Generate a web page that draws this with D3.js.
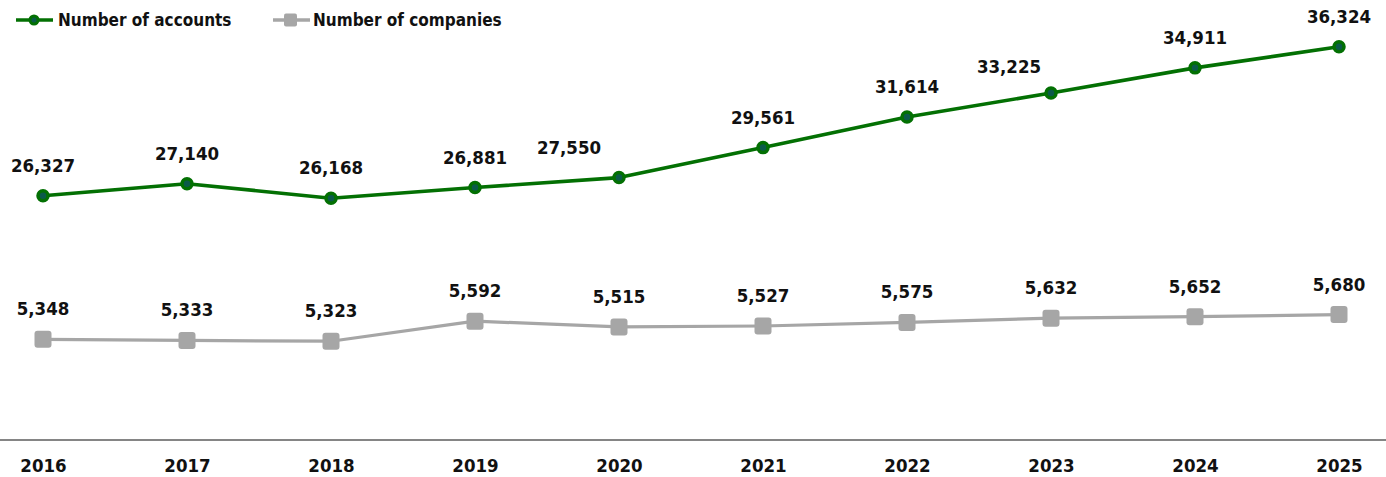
<!DOCTYPE html>
<html>
<head>
<meta charset="utf-8">
<script src="https://cdn.jsdelivr.net/npm/d3@7"></script>
<style>
  html, body { margin: 0; padding: 0; background: #fff; }
  svg { display: block; }
  text { font-family: "DejaVu Sans Condensed", "DejaVu Sans", sans-serif; font-stretch: condensed; fill: #111; }
</style>
</head>
<body>
<svg id="chart" width="1386" height="477"></svg>
<script>
const years = ["2016", "2017", "2018", "2019", "2020", "2021", "2022", "2023", "2024", "2025"];
const accounts = [26327, 27140, 26168, 26881, 27550, 29561, 31614, 33225, 34911, 36324];
const companies = [5348, 5333, 5323, 5592, 5515, 5527, 5575, 5632, 5652, 5680];
const seriesNames = ["Number of accounts", "Number of companies"];
// Hidden value axes: primary for accounts, secondary for companies
const accountsDomain = [10000, 40000];
const companiesDomain = [4000, 10000];

const W = 1386, H = 477;
const plotTop = -8, plotBottom = 440;

const svg = d3.select("#chart");

const x = d3.scalePoint().domain(years).range([43, 1339]);
const yAcc = d3.scaleLinear().domain(accountsDomain).range([plotBottom - 0.8, plotTop]);
const yCom = d3.scaleLinear().domain(companiesDomain).range([plotBottom, plotTop]);

const fmt = d3.format(",");
const green = "#037003", greenFill = "#0b5a4a", grey = "#a6a6a6";
const labelFont = '"DejaVu Sans Condensed", "DejaVu Sans", sans-serif';

// Category axis: baseline and year labels
const xAxis = d3.axisBottom(x).tickSize(0).tickPadding(19);
const gx = svg.append("g").attr("transform", `translate(0,${plotBottom})`).call(xAxis);
gx.select(".domain").remove();
gx.selectAll("text")
  .attr("font-size", 18.5).attr("font-weight", 700)
  .style("font-family", labelFont)
  .attr("fill", "#111");
svg.append("line")
  .attr("x1", 0).attr("x2", W).attr("y1", plotBottom).attr("y2", plotBottom)
  .attr("stroke", "#858585").attr("stroke-width", 2);

function drawSeries(values, y, color, kind, nudge) {
  const g = svg.append("g");
  const line = d3.line().x((d, i) => x(years[i])).y(d => y(d));
  g.append("path").datum(values)
    .attr("d", line).attr("fill", "none")
    .attr("stroke", color).attr("stroke-width", kind === "circle" ? 3.6 : 3.2)
    .attr("stroke-linejoin", "round");
  if (kind === "circle") {
    g.selectAll("circle").data(values).join("circle")
      .attr("cx", (d, i) => x(years[i])).attr("cy", d => y(d)).attr("r", 5)
      .attr("fill", greenFill).attr("stroke", color).attr("stroke-width", 3.5);
  } else {
    g.selectAll("rect").data(values).join("rect")
      .attr("x", (d, i) => x(years[i]) - 8.5).attr("y", d => y(d) - 8.5)
      .attr("width", 17).attr("height", 17).attr("rx", 3)
      .attr("fill", color);
  }
  g.selectAll("text.val").data(values).join("text")
    .attr("class", "val")
    .attr("x", (d, i) => x(years[i]) + ((nudge[years[i]] || [0, 0])[0]))
    .attr("y", (d, i) => y(d) - 24 + ((nudge[years[i]] || [0, 0])[1]))
    .attr("text-anchor", "middle")
    .attr("font-size", 18.5).attr("font-weight", 700)
    .text(d => fmt(d));
}

// Some account labels sit left of their point so they clear the rising line
drawSeries(accounts, yAcc, green, "circle", { "2020": [-50, 0], "2023": [-42, 4] });
drawSeries(companies, yCom, grey, "square", {});

// Legend
const legend = svg.append("g");
const lg1 = legend.append("g").attr("transform", "translate(16,20)");
lg1.append("line").attr("x1", 0).attr("x2", 37).attr("stroke", green).attr("stroke-width", 3.5);
lg1.append("circle").attr("cx", 18).attr("r", 4).attr("fill", greenFill).attr("stroke", green).attr("stroke-width", 3);
lg1.append("text").attr("x", 42).attr("y", 6).attr("font-size", 17).attr("font-weight", 700).text(seriesNames[0]);

const lg2 = legend.append("g").attr("transform", "translate(273,20)");
lg2.append("line").attr("x1", 0).attr("x2", 37).attr("stroke", grey).attr("stroke-width", 3.5);
lg2.append("rect").attr("x", 11).attr("y", -6.5).attr("width", 13).attr("height", 13).attr("rx", 2).attr("fill", grey);
lg2.append("text").attr("x", 40).attr("y", 6).attr("font-size", 17).attr("font-weight", 700).text(seriesNames[1]);
</script>
</body>
</html>
